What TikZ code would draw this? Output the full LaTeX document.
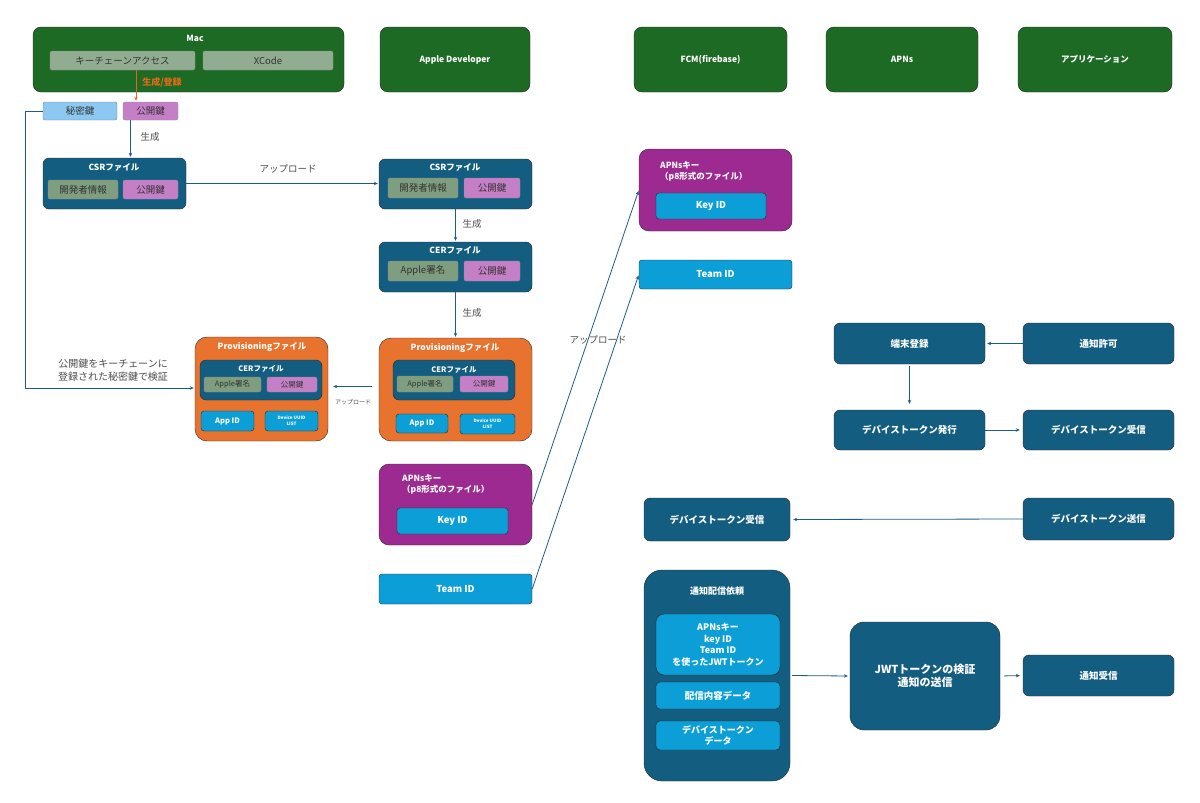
\documentclass[tikz,border=0pt]{standalone}
\usepackage{fontspec}
\setmainfont{Noto Sans CJK JP}
\usetikzlibrary{arrows.meta}
\definecolor{headgreen}{HTML}{1D6A24}
\definecolor{filebox}{HTML}{135E80}
\definecolor{sage}{HTML}{7F9D7F}
\definecolor{lilac}{HTML}{C57FC6}
\definecolor{paleblue}{HTML}{8CC8F0}
\definecolor{provorange}{HTML}{E8732F}
\definecolor{idblue}{HTML}{0C9ED6}
\definecolor{keypurple}{HTML}{9C2A90}
\definecolor{linkcol}{HTML}{1E5C85}
\definecolor{genorange}{HTML}{E06A1A}
\begin{document}
\begin{tikzpicture}[x=1pt,y=-1pt,>={Stealth[length=4pt,width=3.5pt]}]
        \tikzstyle{box}=[draw=black!85,rounded corners=6pt,inner sep=0pt,align=center,text=white,font=\bfseries\fontsize{9.5}{12}\selectfont]
        \tikzstyle{head}=[box,fill=headgreen,minimum width=152,minimum height=65,rounded corners=8pt,font=\bfseries\fontsize{8.5}{10}\selectfont]
        \tikzstyle{filebox}=[box,fill=filebox]
        \tikzstyle{title}=[inner sep=0pt,text=white,font=\bfseries\fontsize{8.5}{11}\selectfont]
        \tikzstyle{part}=[draw=black!45,rounded corners=2pt,inner sep=0pt,fill=sage,text=black!80,font=\fontsize{9.5}{11}\selectfont]
        \tikzstyle{pubkey}=[part,fill=lilac]
        \tikzstyle{idbox}=[box,fill=idblue,rounded corners=3pt]
        \tikzstyle{flow}=[filebox,minimum width=151,minimum height=41]
        \tikzstyle{note}=[inner sep=0pt,text=black!70,font=\fontsize{9.5}{12}\selectfont,align=center]
        \tikzstyle{edge}=[draw=linkcol,line width=0.8pt,->,shorten >=1pt]
        \useasboundingbox (0,0) rectangle (1200,803);

        % column headers
        \node [head,minimum width=311] (mac) at (188.5,59.5) {};
        \node [title] (mact) at (195,38) {Mac};
        \node [part,minimum width=145,minimum height=19,fill=sage!85!white] (kc) at (122.5,60.5) {キーチェーンアクセス};
        \node [part,minimum width=130,minimum height=19,fill=sage!85!white] (xc) at (268,60.5) {XCode};
        \node [head,minimum width=150] (dev) at (455,59.5) {Apple Developer};
        \node [head,minimum width=153] (fcm) at (710.5,59.5) {FCM(firebase)};
        \node [head] (apns) at (902,59.5) {APNs};
        \node [head,minimum width=154] (app) at (1095,59.5) {アプリケーション};

        % keys on the Mac
        \node [part,fill=paleblue,draw=paleblue!70!black,minimum width=74,minimum height=18] (priv) at (80,111) {秘密鍵};
        \node [pubkey,minimum width=55,minimum height=18] (pubk) at (150.5,111) {公開鍵};
        \path[edge,draw=genorange] ([xshift=13.5]kc.south) -- ([xshift=13.5]kc.south |- pubk.north);
        \node [inner sep=0pt,text=genorange,font=\bfseries\fontsize{9}{11}\selectfont] (gen0) at (162,82) {生成/登録};

        % CSR on the Mac
        \node [filebox,minimum width=143,minimum height=51] (csr1) at (114.5,183.5) {};
        \node [title] (csr1t) at (114,167) {CSRファイル};
        \node [part,minimum width=70,minimum height=19] (info1) at (83,189.5) {開発者情報};
        \node [pubkey,minimum width=55,minimum height=19] (pub1) at (150.5,189.5) {公開鍵};
        \path[edge] ([xshift=-20]pubk.south) -- ([xshift=-20]pubk.south |- csr1.north);
        \node [note] (gen1) at (150,137) {生成};

        % Apple Developer side
        \node [filebox,minimum width=153,minimum height=50] (csr2) at (455.5,184) {};
        \node [title] (csr2t) at (455,167) {CSRファイル};
        \node [part,minimum width=70,minimum height=20] (info2) at (423,188) {開発者情報};
        \node [pubkey,minimum width=56,minimum height=20] (pub2) at (492,188) {公開鍵};
        \path[edge] (csr1.east) -- (csr1.east -| csr2.west);
        \node [note] (up1) at (288,169) {アップロード};

        \node [filebox,minimum width=153,minimum height=50] (cer) at (455.5,267) {};
        \node [title] (cert) at (455,250) {CERファイル};
        \node [part,minimum width=70,minimum height=20] (sig) at (423,271) {Apple署名};
        \node [pubkey,minimum width=56,minimum height=20] (pub3) at (492,271) {公開鍵};
        \path[edge] (csr2.south) -- (cer.north);
        \node [note] (gen2) at (472,224) {生成};

        % provisioning files
        \node [box,fill=provorange,minimum width=153,minimum height=103,rounded corners=12pt] (provr) at (455.5,389.5) {};
        \node [title] (provrt) at (455,348) {Provisioningファイル};
        \node [filebox,minimum width=122,minimum height=40] (cerr) at (454,380) {};
        \node [title,font=\bfseries\fontsize{7.5}{9}\selectfont] (cerrt) at (454,370) {CERファイル};
        \node [part,minimum width=56,minimum height=16,font=\fontsize{7.5}{9}\selectfont] (sigr) at (425,384) {Apple署名};
        \node [pubkey,minimum width=48,minimum height=16,font=\fontsize{7.5}{9}\selectfont] (pubr) at (484,384) {公開鍵};
        \node [idbox,minimum width=52,minimum height=19,font=\bfseries\fontsize{7.5}{9}\selectfont] (appr) at (422,423.5) {App ID};
        \node [idbox,minimum width=55,minimum height=20,font=\bfseries\fontsize{4.5}{6}\selectfont] (uuidr) at (487.5,424) {Device UUID\\LIST};
        \path[edge] (cer.south) -- (provr.north);
        \node [note] (gen3) at (472,313) {生成};

        \node [box,fill=provorange,minimum width=133,minimum height=104,rounded corners=12pt] (provl) at (261.5,389) {};
        \node [title] (provlt) at (262,347) {Provisioningファイル};
        \node [filebox,minimum width=122,minimum height=40] (cerl) at (261,380) {};
        \node [title,font=\bfseries\fontsize{7.5}{9}\selectfont] (cerlt) at (261,369) {CERファイル};
        \node [part,minimum width=57,minimum height=15,font=\fontsize{7.5}{9}\selectfont] (sigl) at (232.5,384.5) {Apple署名};
        \node [pubkey,minimum width=50,minimum height=15,font=\fontsize{7.5}{9}\selectfont] (publ) at (292,384.5) {公開鍵};
        \node [idbox,minimum width=53,minimum height=20,font=\bfseries\fontsize{7.5}{9}\selectfont] (appl) at (227.5,421) {App ID};
        \node [idbox,minimum width=53,minimum height=20,font=\bfseries\fontsize{4.5}{6}\selectfont] (uuidl) at (291.5,421) {Device UUID\\LIST};
        \path[edge,shorten <=7pt,shorten >=5pt] ([yshift=3]provr.west) -- ([yshift=3]provr.west -| provl.east);
        \node [note,font=\fontsize{6}{7}\selectfont] (up2) at (353,402) {アップロード};

        % private key check
        \path[edge] (priv.west) -- ++(-17,0) |- ([yshift=1]provl.west);
        \node [note,font=\fontsize{10}{13}\selectfont] (check) at (113,370) {公開鍵をキーチェーンに\\登録された秘密鍵で検証};

        % APNs key and team id
        \node [box,fill=keypurple,minimum width=153,minimum height=81,rounded corners=10pt] (keym) at (455.5,504.5) {};
        \node [title,align=left,anchor=west] (keymt) at (402,484) {APNsキー\\（p8形式のファイル）};
        \node [idbox,minimum width=111,minimum height=26] (kidm) at (452.5,521) {Key ID};
        \node [idbox,minimum width=153,minimum height=30] (teamm) at (455.5,589) {Team ID};

        \node [box,fill=keypurple,minimum width=153,minimum height=82,rounded corners=10pt] (keyf) at (715.5,190) {};
        \node [title,align=left,anchor=west] (keyft) at (660,171) {APNsキー\\（p8形式のファイル）};
        \node [idbox,minimum width=110,minimum height=26] (kidf) at (711,206) {Key ID};
        \node [idbox,minimum width=153,minimum height=29] (teamf) at (715.5,274.5) {Team ID};
        \path[edge] (keym.east) -- (keyf.west);
        \path[edge] (teamm.east) -- (teamf.west);
        \node [note] (up3) at (598,340) {アップロード};

        % device token
        \node [flow] (reg) at (909.5,343.5) {端末登録};
        \node [flow] (allow) at (1098.5,343.5) {通知許可};
        \node [flow,minimum height=40] (issue) at (909.5,430) {デバイストークン発行};
        \node [flow,minimum height=40] (recva) at (1098.5,430) {デバイストークン受信};
        \node [flow,minimum width=146,minimum height=43] (recvf) at (717,519.5) {デバイストークン受信};
        \node [flow,minimum height=42] (send) at (1098.5,519) {デバイストークン送信};
        \path[edge,shorten >=2pt] (allow.west) -- (reg.east);
        \path[edge,shorten <=2pt,shorten >=6pt] (reg.south) -- (issue.north);
        \path[edge,shorten >=3pt] (issue.east) -- (recva.west);
        \path[edge,shorten >=3pt] (send.west) -- (recvf.east);

        % notification
        \node [filebox,minimum width=146,minimum height=211,rounded corners=18pt] (req) at (717,675.5) {};
        \node [title,font=\bfseries\fontsize{9}{11}\selectfont] (reqt) at (717,591) {通知配信依頼};
        \node [idbox,minimum width=124,minimum height=61,rounded corners=8pt,font=\bfseries\fontsize{9}{11.5}\selectfont] (jwtinfo) at (718,644.5) {APNsキー\\key ID\\Team ID\\を使ったJWTトークン};
        \node [idbox,minimum width=124,minimum height=27,rounded corners=4pt] (body) at (718,695.5) {配信内容データ};
        \node [idbox,minimum width=124,minimum height=29,rounded corners=4pt,font=\bfseries\fontsize{9}{11.5}\selectfont] (token) at (718,735.5) {デバイストークン\\データ};
        \node [filebox,minimum width=150,minimum height=108,rounded corners=14pt,font=\bfseries\fontsize{11}{13}\selectfont] (verify) at (925,676) {JWTトークンの検証\\通知の送信};
        \node [flow] (notify) at (1098.5,675.5) {通知受信};
        \path[edge,shorten <=2pt,shorten >=2pt] (req.east) -- (verify.west);
        \path[edge,shorten <=4pt,shorten >=3pt] (verify.east) -- (notify.west);
\end{tikzpicture}
\end{document}
